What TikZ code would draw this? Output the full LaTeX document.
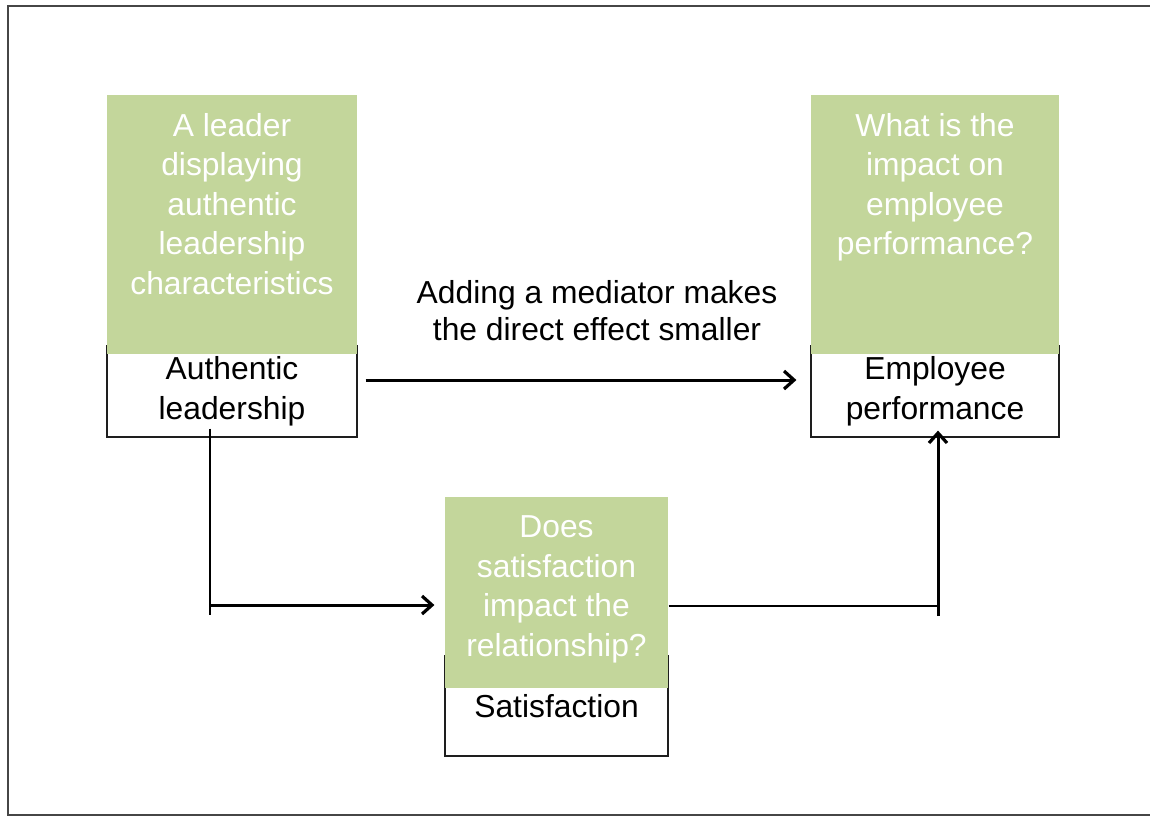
\documentclass[tikz,border=0pt]{standalone}
\usepackage{fontspec}
\setmainfont{Liberation Sans}
\usetikzlibrary{arrows.meta,calc}
\definecolor{QFill}{RGB}{195,214,155}
\definecolor{BoxLine}{RGB}{30,30,30}
\definecolor{FrameLine}{RGB}{70,70,70}
\tikzset{
  nd_var/.style={
    rectangle, draw=BoxLine, fill=white, line width=0.6pt,
    align=center, inner sep=0pt,
    font=\fontsize{15.9}{20}\selectfont},
  nd_q/.style={
    rectangle, fill=QFill, inner sep=0pt},
  nd_qtxt/.style={
    text=white, align=center, anchor=north, inner sep=0pt,
    font=\fontsize{15.9}{19.75}\selectfont},
  lbl/.style={
    align=center, inner sep=0pt,
    font=\fontsize{15.9}{18.5}\selectfont},
  arr/.style={-{Straight Barb[length=5pt,width=9pt,line width=1.6pt]},line width=1.5pt},
  lnk/.style={line width=0.9pt},
}

\begin{document}
\begin{tikzpicture}[x=0.5pt,y=-0.5pt]
\useasboundingbox (0,0) rectangle (1150,816);
\draw[FrameLine,line width=0.8pt] (1150,6) -- (8,6) -- (8,815) -- (1150,815);

% variable boxes (white), partly hidden by the question boxes
\node[nd_var,minimum width=125pt,minimum height=45.5pt] (al) at (232,391.5) {Authentic\\leadership};
\node[nd_var,minimum width=124pt,minimum height=45.5pt] (ep) at (935,391.5) {Employee\\performance};
\node[nd_var,minimum width=111.5pt,minimum height=50pt] (sq) at (556.5,706) {Satisfaction};

% question boxes (green)
\node[nd_q,minimum width=125pt,minimum height=129.5pt] (q_al) at (232,224.5) {};
\node[nd_q,minimum width=124pt,minimum height=129.5pt] (q_ep) at (935,224.5) {};
\node[nd_q,minimum width=111.5pt,minimum height=95.5pt] (q_sq) at (556.5,592.5) {};
\node[nd_qtxt] at ([yshift=-9pt]q_al.north) {A leader\\displaying\\authentic\\leadership\\characteristics};
\node[nd_qtxt] at ([yshift=-9pt]q_ep.north) {What is the\\impact on\\employee\\performance?};
\node[nd_qtxt] at ([yshift=-9.5pt]q_sq.north) {Does\\satisfaction\\impact the\\relationship?};

\node[lbl] (med) at (597,311) {Adding a mediator makes\\the direct effect smaller};

% connectors
\coordinate (bl) at (210,605);
\coordinate (br) at (938,606);
\draw[arr] ([xshift=4pt,yshift=5.75pt]al.east) -- ([xshift=-7pt,yshift=5.75pt]ep.west);
\draw[lnk] ([yshift=4.5pt]al.south -| bl) -- ([yshift=-5pt]bl);
\draw[arr] (bl) -- ([xshift=-5pt]sq.west |- bl);
\draw[lnk] (sq.east |- br) -- (br);
\draw[arr] ([yshift=-5pt]br) -- ([yshift=3.5pt]ep.south -| br);
\end{tikzpicture}
\end{document}
